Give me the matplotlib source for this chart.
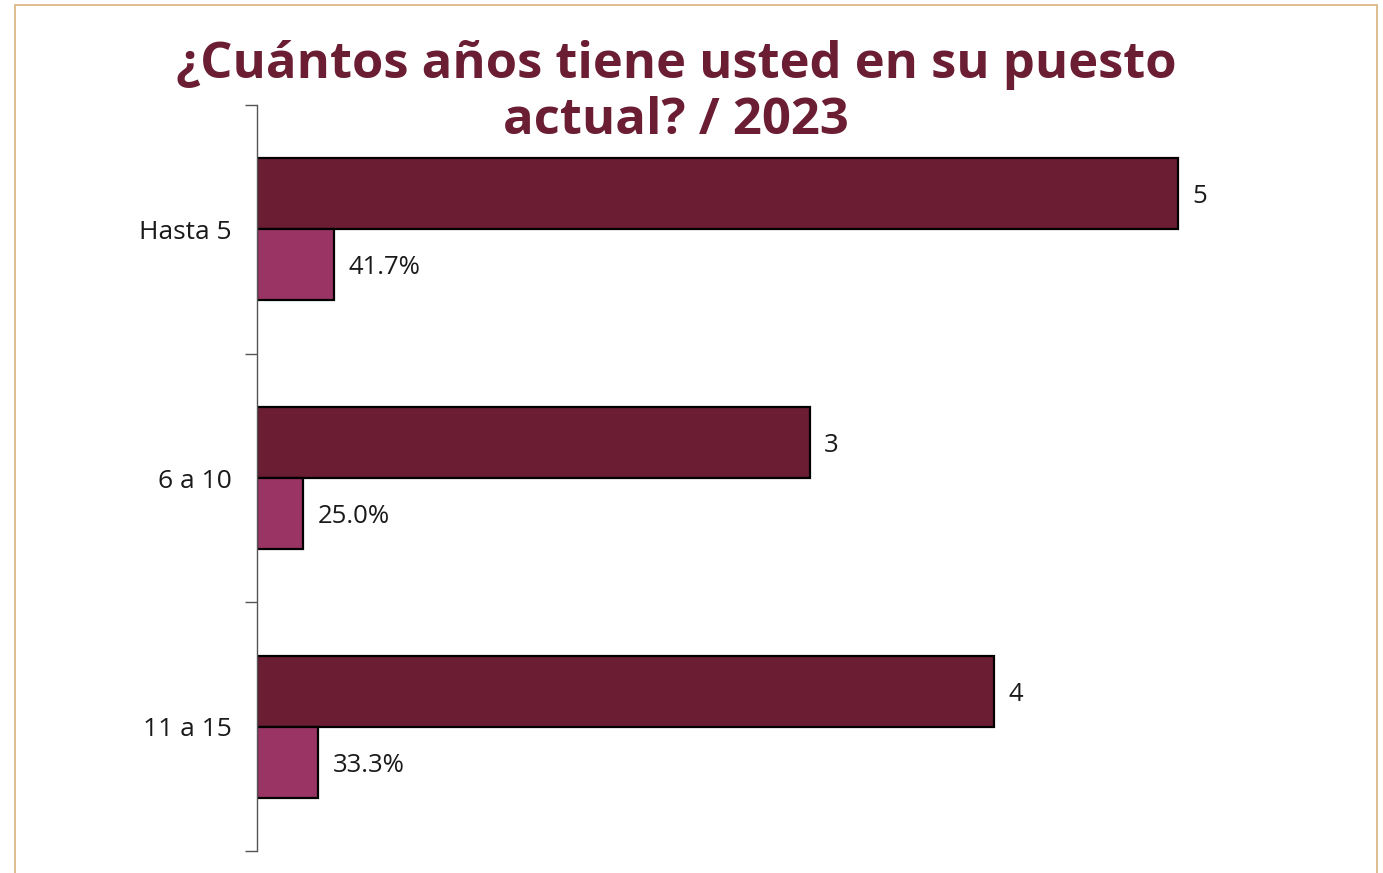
import matplotlib
matplotlib.use("Agg")
import matplotlib.pyplot as plt
from matplotlib.patches import Rectangle
import numpy as np

categories = ["Hasta 5", "6 a 10", "11 a 15"]
counts = [5, 3, 4]
percents = [41.7, 25.0, 33.3]

title = "¿Cuántos años tiene usted en su puesto\nactual? / 2023"

DARK = "#6A1D33"
PINK = "#9A3464"
TEXT = "#1a1a1a"
BORDER = "#D9B27C"

plt.rcParams["font.family"] = ["Open Sans", "DejaVu Sans"]

W, H = 1383, 873
fig = plt.figure(figsize=(W / 100, H / 100), dpi=100)
fig.patch.set_facecolor("white")

# page frame
frame = Rectangle((15 / W, -0.05), (1377 - 15) / W, 1.05 - 5 / H,
                  transform=fig.transFigure, fill=False,
                  edgecolor=BORDER, linewidth=1.2, clip_on=False)
fig.patches.append(frame)

ax = fig.add_axes([257 / W, 1 - 851 / H, (1362 - 257) / W, (851 - 105) / H])

y = np.arange(len(categories))
h = 0.285
ax.barh(y - h / 2, counts, height=h, color=DARK, edgecolor="black", linewidth=1.6)
frac = [p / 100 for p in percents]
ax.barh(y + h / 2, frac, height=h, color=PINK, edgecolor="black", linewidth=1.6)

LABEL_FS = 18.5
for yi, c in zip(y, counts):
    ax.text(c + 0.08, yi - h / 2, f"{c}", va="center_baseline", ha="left",
            fontsize=LABEL_FS, color=TEXT)
for yi, p, f in zip(y, percents, frac):
    ax.text(f + 0.08, yi + h / 2, f"{p:.1f}%", va="center_baseline", ha="left",
            fontsize=LABEL_FS, color=TEXT)

ax.set_xlim(0, 6)
ax.set_ylim(len(categories) - 0.5, -0.5)
ax.set_yticks(y)
ax.set_yticklabels(categories, fontsize=19, color=TEXT)
ax.tick_params(axis="y", which="major", length=0, pad=18)
ax.set_yticks(np.arange(-0.5, len(categories), 1.0), minor=True)
ax.tick_params(axis="y", which="minor", length=9, width=1, color="#555555")
ax.set_xticks([])
for s in ["top", "right", "bottom"]:
    ax.spines[s].set_visible(False)
ax.spines["left"].set_color("#555555")
ax.spines["left"].set_linewidth(1)

fig.text(676 / W, 1 - 134 / H, title, ha="center", va="baseline",
         fontsize=36.5, fontweight="bold", color=DARK, linespacing=1.17)

fig.savefig("out.png", dpi=100)
